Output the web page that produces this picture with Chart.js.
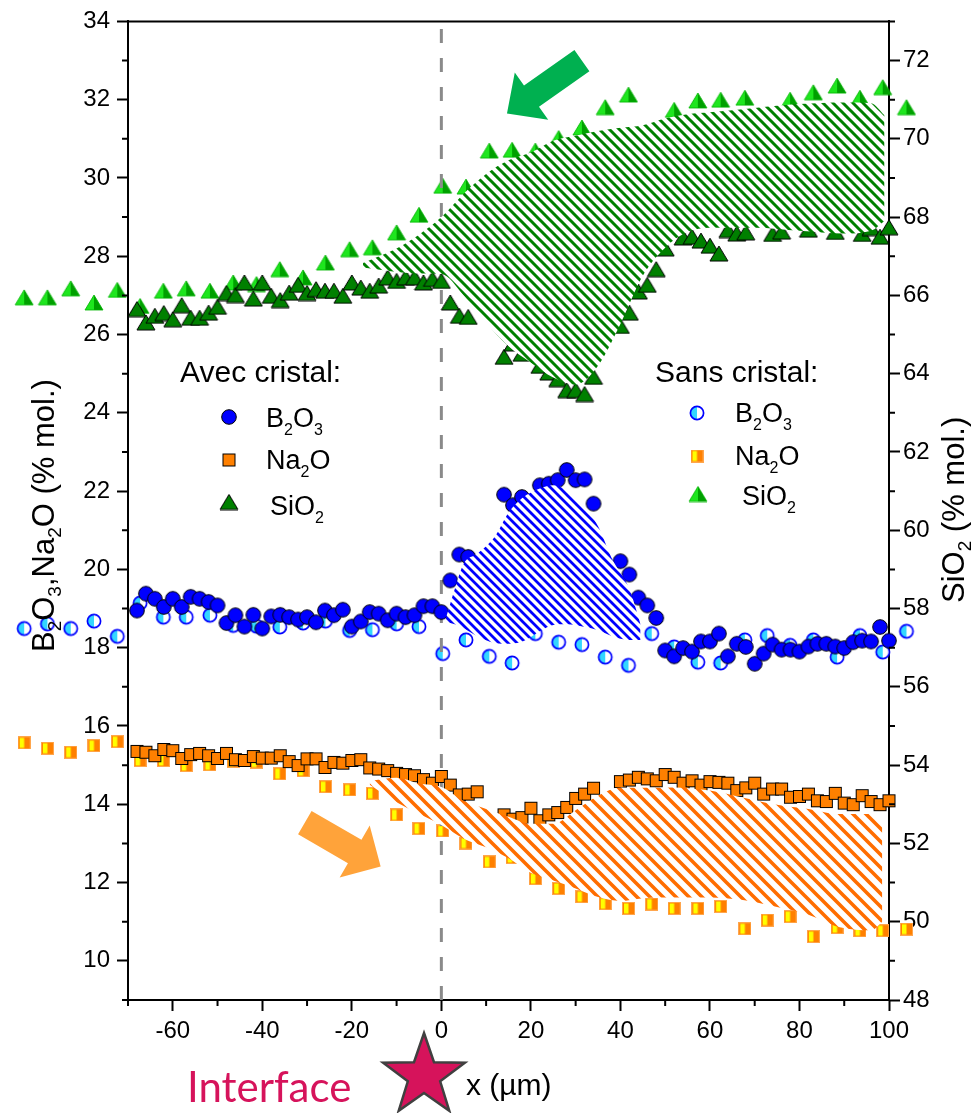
<!DOCTYPE html>
<html>
<head>
<meta charset="utf-8">
<script src="https://cdn.jsdelivr.net/npm/chart.js@4.4.1/dist/chart.umd.min.js"></script>
<style>
  html, body { margin: 0; padding: 0; background: #fff; }
  canvas { display: block; }
</style>
</head>
<body>
<canvas id="c" width="973" height="1113"></canvas>
<script>
/* composition profiles across the interface — avec / sans cristal */

const FONT = '"Liberation Sans", Arial, sans-serif';

// ── TICKS ─────────────────────────────────────────────────────────────────────
const xTicks  = [-60, -40, -20, 0, 20, 40, 60, 80, 100];
const xMinor  = [-70, -50, -30, -10, 10, 30, 50, 70, 90];
const yTicks  = [10, 12, 14, 16, 18, 20, 22, 24, 26, 28, 30, 32, 34];
const yMinor  = [9, 11, 13, 15, 17, 19, 21, 23, 25, 27, 29, 31, 33];
const y1Ticks = [48, 50, 52, 54, 56, 58, 60, 62, 64, 66, 68, 70, 72];
const y1Minor = [49, 51, 53, 55, 57, 59, 61, 63, 65, 67, 69, 71, 73];
const interfaceX = 0;

// ── AVEC CRISTAL (x in µm) ────────────────────────────────────────────────────
const avecX = [
  -68, -66, -64, -62, -60, -58, -56, -54, -52, -50,
  -48, -46, -44, -42, -40, -38, -36, -34, -32, -30,
  -28, -26, -24, -22, -20, -18, -16, -14, -12, -10,
   -8,  -6,  -4,  -2,   0,   2,   4,   6,   8,  10,
   12,  14,  16,  18,  20,  22,  24,  26,  28,  30,
   32,  34,  36,  38,  40,  42,  44,  46,  48,  50,
   52,  54,  56,  58,  60,  62,  64,  66,  68,  70,
   72,  74,  76,  78,  80,  82,  84,  86,  88,  90,
   92,  94,  96,  98, 100
];
const avecB2O3 = [
  18.95, 19.38, 19.25, 19.04, 19.25, 19.04, 19.30, 19.25, 19.17, 19.08,
  18.63, 18.83, 18.54, 18.84, 18.49, 18.80, 18.84, 18.78, 18.72, 18.78,
  18.65, 18.95, 18.83, 18.97, 18.54, 18.67, 18.91, 18.87, 18.70, 18.87,
  18.78, 18.83, 19.06, 19.06, 18.91, 19.72, 20.38, 20.32, null,  null,
  null,  21.91, 21.64, 21.85, null,  22.15, 22.19, 22.28, 22.54, 22.28,
  22.30, 21.68, null,  null,  20.21, 19.87, 19.28, 19.08, 18.76, 17.93,
  17.78, 17.99, 17.90, 18.16, 18.16, 18.36, 17.78, 18.10, 18.02, 17.59,
  17.85, 18.08, 17.95, 17.95, 17.90, 18.03, 18.10, 18.10, 18.03, 17.99,
  18.14, 18.18, 18.16, 18.53, 18.18
];
const avecNa2O = [
  15.35, 15.33, 15.24, 15.40, 15.37, 15.17, 15.27, 15.30, 15.24, 15.17,
  15.30, 15.14, 15.12, 15.22, 15.18, 15.18, 15.24, 15.09, 14.99, 15.16,
  15.16, 14.94, 15.07, 15.05, 15.12, 15.14, 14.93, 14.90, 14.86, 14.79,
  14.76, 14.73, 14.63, 14.54, 14.71, 14.49, 14.24, 14.26, 14.32, null,
  null,  13.73, 13.62, 13.66, 13.90, 13.58, 13.73, 13.79, 13.92, 14.15,
  14.26, 14.41, null,  null,  14.58, 14.62, 14.69, 14.65, 14.60, 14.76,
  14.69, 14.54, 14.60, 14.49, 14.58, 14.56, 14.54, 14.35, 14.42, 14.54,
  14.26, 14.39, 14.39, 14.18, 14.20, 14.26, 14.09, 14.07, 14.28, 14.03,
  13.99, 14.22, 14.07, 13.99, 14.09
];
const avecSiO2 = [
  65.65, 65.31, 65.48, 65.55, 65.39, 65.75, 65.43, 65.43, 65.56, 65.71,
  66.06, 66.01, 66.33, 65.92, 66.33, 65.99, 65.88, 66.07, 66.27, 66.06,
  66.16, 66.12, 66.12, 65.99, 66.33, 66.20, 66.12, 66.25, 66.46, 66.37,
  66.46, 66.46, 66.33, 66.42, 66.37, 65.82, 65.48, 65.45, null,  null,
  null,  64.43, 64.77, 64.51, null,  64.20, 64.03, 63.86, 63.58, 63.58,
  63.48, 63.92, null,  null,  65.22, 65.56, 66.10, 66.27, 66.67, 67.20,
  null,  67.48, 67.50, 67.40, 67.27, 67.07, 67.67, 67.58, 67.61, null,
  null,  67.57, 67.63, null,  null,  67.68, null,  null,  67.62, null,
  null,  67.57, 67.72, 67.50, 67.74
];

// ── SANS CRISTAL ──────────────────────────────────────────────────────────────
const sansX = [
  -93.2, -88.0, -82.8, -77.6, -72.4, -67.3, -62.1, -57.0, -51.7, -46.5,
  -41.3, -36.1, -30.9, -25.9, -20.5, -15.4, -10.0,  -5.0,   0.3,   5.5,
   10.7,  15.8,  21.0,  26.2,  31.4,  36.6,  41.8,  47.0,  52.0,  57.3,
   62.4,  67.8,  72.8,  77.9,  83.1,  88.4,  93.5,  98.6, 103.9
];
const sansB2O3 = [
  18.49, 18.61, 18.49, 18.68, 18.29, 19.14, 18.78, 18.78, 18.83, 18.57,
  18.55, 18.53, 18.63, 18.68, 18.44, 18.46, 18.61, 18.54, 17.85, 18.20,
  17.78, 17.61, 18.36, 18.14, 18.08, 17.76, 17.55, 18.36, 18.02, 17.63,
  17.61, 18.20, 18.31, 18.06, 18.20, 17.76, 18.31, 17.89, 18.42
];
const sansNa2O = [
  15.57, 15.43, 15.33, 15.50, 15.60, 15.12, 15.12, 14.99, 15.01, 15.10,
  15.08, 14.78, 14.86, 14.45, 14.37, 14.28, 13.73, 13.38, 13.32, 13.01,
  12.53, 12.64, 12.10, 11.85, 11.64, 11.46, 11.34, 11.45, 11.34, 11.34,
  11.39, 10.82, 11.04, 11.13, 10.62, 10.85, 10.77, 10.77, 10.81
];
const sansSiO2 = [
  65.95, 65.95, 66.18, 65.82, 66.14, 65.73, 66.12, 66.18, 66.12, 66.33,
  66.29, 66.67, 66.46, 66.84, 67.18, 67.23, 67.61, 68.06, 68.80, 68.78,
  69.70, 69.72, 69.70, 70.02, 70.29, 70.81, 71.13, null,  70.74, 70.98,
  71.00, 71.05, null,  71.00, 71.19, 71.36, 71.05, 71.32, 70.81
];

// ── HATCHED GAPS (upper / lower edge) ─────────────────────────────────────────
const gapSiO2X   = [-17.5, -10, -5, 0, 5, 10, 15, 20, 25, 30, 35, 40, 45, 50, 55, 60, 70, 80, 90, 96, 99];
const gapSiO2Top = [66.83, 67.2, 67.55, 68.0, 68.6, 69.1, 69.45, 69.65, 69.95, 70.08, 70.2, 70.28, 70.35, 70.52, 70.63, 70.68, 70.79, 70.89, 70.93, 70.91, 70.6];
const gapSiO2Bot = [66.71, 66.6, 66.56, 66.55, 66.0, 65.3, 64.7, 64.28, 63.9, 63.72, 64.2, 65.27, 66.5, 67.22, 67.62, 67.73, 67.73, 67.65, 67.58, 67.65, 67.9];

const gapB2O3X   = [1, 3, 5, 8, 12, 15, 18, 22, 25, 28, 32, 35, 38, 42, 44.5];
const gapB2O3Top = [18.75, 19.5, 20.15, 20.4, 20.85, 21.45, 21.82, 22.07, 22.15, 22.03, 21.58, 21.1, 20.3, 19.5, 18.6];
const gapB2O3Bot = [18.65, 18.6, 18.5, 18.3, 18.12, 18.1, 18.15, 18.42, 18.58, 18.6, 18.53, 18.45, 18.3, 18.2, 18.2];

const gapNa2OX   = [-16, -10, -5, 0, 5, 10, 15, 20, 25, 30, 35, 40, 45, 52, 60, 67, 74, 82, 89, 96, 98.5];
const gapNa2OTop = [14.6, 14.68, 14.53, 14.44, 14.09, 13.88, 13.68, 13.5, 13.5, 13.85, 14.22, 14.43, 14.42, 14.43, 14.35, 14.18, 14.01, 13.88, 13.75, 13.75, 13.5];
const gapNa2OBot = [14.5, 14.05, 13.76, 13.47, 13.12, 12.9, 12.62, 12.25, 12.05, 11.85, 11.63, 11.53, 11.6, 11.62, 11.62, 11.56, 11.4, 11.18, 10.86, 10.78, 11.0];

// ── HELPERS ───────────────────────────────────────────────────────────────────
const canvas = document.getElementById('c');
const ctx    = canvas.getContext('2d');

const pts = (xs, ys) => xs.map((x, i) => ({ x, y: ys[i] }));

function markerCanvas(w, h, draw) {
  const c = document.createElement('canvas');
  c.width = w; c.height = h;
  draw(c.getContext('2d'));
  return c;
}

const MK = {
  circFull: markerCanvas(18, 18, g => {
    g.beginPath(); g.arc(9, 9, 7.3, 0, 2 * Math.PI);
    g.fillStyle = '#0000ff'; g.fill();
    g.lineWidth = 1; g.strokeStyle = '#000'; g.stroke();
  }),
  circHalf: markerCanvas(18, 18, g => {
    g.beginPath(); g.arc(9, 9, 6.6, 0, 2 * Math.PI);
    g.fillStyle = '#fff'; g.fill();
    g.beginPath(); g.arc(9, 9, 6.6, Math.PI / 2, Math.PI * 1.5); g.closePath();
    g.fillStyle = '#33d6ff'; g.fill();
    g.beginPath(); g.arc(9, 9, 6.6, 0, 2 * Math.PI);
    g.lineWidth = 1.7; g.strokeStyle = '#0000ff'; g.stroke();
  }),
  sqFull: markerCanvas(15, 15, g => {
    g.fillStyle = '#ff8000'; g.fillRect(1, 1, 13, 13);
    g.lineWidth = 1; g.strokeStyle = '#000'; g.strokeRect(1.5, 1.5, 12, 12);
  }),
  sqHalf: markerCanvas(13, 13, g => {
    g.fillStyle = '#ff8000'; g.fillRect(0, 0, 13, 13);
    g.fillStyle = '#ffff00'; g.fillRect(2, 1.5, 4.5, 10);
    g.lineWidth = 1; g.strokeStyle = '#ffa64d'; g.strokeRect(0.5, 0.5, 12, 12);
  }),
  triFull: markerCanvas(20, 17, g => {
    g.beginPath(); g.moveTo(1, 16); g.lineTo(19, 16); g.lineTo(10, 1); g.closePath();
    g.fillStyle = '#008000'; g.fill();
    g.lineWidth = 1; g.strokeStyle = '#000'; g.stroke();
  }),
  triHalf: markerCanvas(20, 17, g => {
    g.beginPath(); g.moveTo(1, 16); g.lineTo(10, 16); g.lineTo(10, 1); g.closePath();
    g.fillStyle = '#1ee61e'; g.fill();
    g.beginPath(); g.moveTo(10, 16); g.lineTo(19, 16); g.lineTo(10, 1); g.closePath();
    g.fillStyle = '#00a000'; g.fill();
    g.beginPath(); g.moveTo(1, 16); g.lineTo(19, 16); g.lineTo(10, 1); g.closePath();
    g.lineWidth = 0.8; g.strokeStyle = '#00b400'; g.stroke();
  })
};

// diagonal "\" stripes on white
function hatch(color, period, width) {
  const t = document.createElement('canvas');
  t.width = period; t.height = period;
  const g = t.getContext('2d');
  g.fillStyle = '#fff'; g.fillRect(0, 0, period, period);
  g.strokeStyle = color; g.lineWidth = width;
  g.beginPath();
  for (let k = -1; k <= 1; k++) {
    g.moveTo(k * period - 2, -2);
    g.lineTo(k * period + period + 2, period + 2);
  }
  g.stroke();
  return ctx.createPattern(t, 'repeat');
}

const gapSet = (xs, top, bot, axis, pattern) => [
  { data: pts(xs, top), yAxisID: axis, fill: '+1', backgroundColor: pattern,
    borderColor: 'rgba(0,0,0,0)', borderWidth: 0, pointRadius: 0,
    cubicInterpolationMode: 'monotone', order: 0 },
  { data: pts(xs, bot), yAxisID: axis, fill: false,
    borderColor: 'rgba(0,0,0,0)', borderWidth: 0, pointRadius: 0,
    cubicInterpolationMode: 'monotone', order: 0 }
];

// big radius only widens the "in area" margin so points past the axes still draw
const markSet = (xs, ys, axis, img, order) => ({
  data: pts(xs, ys), yAxisID: axis, showLine: false,
  pointStyle: img, pointRadius: 120, pointHoverRadius: 120, pointBorderWidth: 0,
  clip: false, order
});

function chem(g, str, x, y, size, subSize, drop) {
  let cx = x;
  for (const t of str.split(/(_\d)/)) {
    if (!t) continue;
    const sub = t[0] === '_';
    const s = sub ? t.slice(1) : t;
    g.font = `${sub ? subSize : size}px ${FONT}`;
    g.fillText(s, cx, sub ? y + drop : y);
    cx += g.measureText(s).width;
  }
  return cx;
}

function arrow(g, tx, ty, px, py, sw, hw, hl, color) {
  const dx = px - tx, dy = py - ty, L = Math.hypot(dx, dy);
  const ux = dx / L, uy = dy / L, nx = -uy, ny = ux;
  const bx = px - ux * hl, by = py - uy * hl;
  g.beginPath();
  g.moveTo(tx + nx * sw / 2, ty + ny * sw / 2);
  g.lineTo(bx + nx * sw / 2, by + ny * sw / 2);
  g.lineTo(bx + nx * hw / 2, by + ny * hw / 2);
  g.lineTo(px, py);
  g.lineTo(bx - nx * hw / 2, by - ny * hw / 2);
  g.lineTo(bx - nx * sw / 2, by - ny * sw / 2);
  g.lineTo(tx - nx * sw / 2, ty - ny * sw / 2);
  g.closePath();
  g.fillStyle = color; g.fill();
}

function star(g, cx, cy, R, r) {
  g.beginPath();
  for (let i = 0; i < 10; i++) {
    const a = -Math.PI / 2 + i * Math.PI / 5;
    const rad = i % 2 ? r : R;
    g.lineTo(cx + rad * Math.cos(a), cy + rad * Math.sin(a));
  }
  g.closePath();
  g.fillStyle = '#d6135b'; g.fill();
  g.lineWidth = 2.5; g.strokeStyle = '#404040'; g.stroke();
}

// ── DECOR (frame, minor ticks, legends, titles, arrows) ───────────────────────
const decor = {
  id: 'decor',
  afterDraw(chart) {
    const g = chart.ctx;
    const a = chart.chartArea;
    const { x, y, y1 } = chart.scales;
    g.save();

    g.strokeStyle = '#000'; g.lineWidth = 2;
    g.beginPath();
    g.moveTo(a.left - 1, a.top); g.lineTo(a.right + 1, a.top);
    xMinor.forEach(v => { const p = x.getPixelForValue(v); g.moveTo(p, a.bottom); g.lineTo(p, a.bottom + 6); });
    yMinor.forEach(v => { const p = y.getPixelForValue(v); g.moveTo(a.left - 6, p); g.lineTo(a.left, p); });
    y1Minor.forEach(v => { const p = y1.getPixelForValue(v); g.moveTo(a.right, p); g.lineTo(a.right + 6, p); });
    g.stroke();

    // arrows
    arrow(g, x.getPixelForValue(31.4), y.getPixelForValue(33.0),
             x.getPixelForValue(14.66), y.getPixelForValue(31.65), 26, 58, 30, '#00b050');
    arrow(g, x.getPixelForValue(-30.5), y.getPixelForValue(13.53),
             x.getPixelForValue(-13.56), y.getPixelForValue(12.41), 27, 60, 30, '#ffa33a');

    // legends
    g.fillStyle = '#000';
    g.textAlign = 'left'; g.textBaseline = 'alphabetic';
    g.font = `30px ${FONT}`;
    g.fillText('Avec cristal:', 180, 382);
    g.fillText('Sans cristal:', 655, 382);
    const items = [
      [MK.circFull, 229, 417, 'B_2O_3', 266, 427],
      [MK.sqFull,   229, 460, 'Na_2O',  266, 469],
      [MK.triFull,  229, 502, 'SiO_2',  270, 515],
      [MK.circHalf, 697, 413, 'B_2O_3', 735, 422],
      [MK.sqHalf,   697, 456, 'Na_2O',  735, 465],
      [MK.triHalf,  698, 494, 'SiO_2',  742, 505]
    ];
    items.forEach(([img, mx, my, txt, tx, ty]) => {
      g.drawImage(img, mx - img.width / 2, my - img.height / 2);
      chem(g, txt, tx, ty, 27, 16, 8);
    });

    // axis titles
    g.save();
    g.translate(54, 652); g.rotate(-Math.PI / 2);
    chem(g, 'B_2O_3,Na_2O (% mol.)', 0, 0, 31, 19, 7);
    g.restore();
    g.save();
    g.translate(964, 603); g.rotate(-Math.PI / 2);
    chem(g, 'SiO_2 (% mol.)', 0, 0, 31, 19, 7);
    g.restore();

    // bottom annotation
    g.font = `30px ${FONT}`;
    g.fillText('x (µm)', 466, 1095);
    g.font = '42px Lato, "Open Sans", sans-serif';
    g.fillStyle = '#d6135b';
    g.fillText('Interface', 187, 1102);
    star(g, 424, 1076, 43, 17);

    g.restore();
  }
};

// ── CHART ─────────────────────────────────────────────────────────────────────
Chart.defaults.font.family = FONT;
Chart.defaults.color = '#000';

const GRID   = { display: true, drawOnChartArea: false, drawTicks: true, tickLength: 11, tickWidth: 2, tickColor: '#000' };
const BORDER = { display: true, color: '#000', width: 2 };
const TICKS  = { font: { size: 24 }, color: '#000', autoSkip: false, maxRotation: 0, callback: v => String(v) };

new Chart(ctx, {
  type: 'line',
  data: {
    datasets: [
      ...gapSet(gapSiO2X, gapSiO2Top, gapSiO2Bot, 'y1', hatch('#008000', 10, 3.0)),
      ...gapSet(gapB2O3X, gapB2O3Top, gapB2O3Bot, 'y',  hatch('#0000ff', 9, 2.8)),
      ...gapSet(gapNa2OX, gapNa2OTop, gapNa2OBot, 'y',  hatch('#ff6d00', 13, 3.6)),
      markSet(avecX, avecB2O3, 'y',  MK.circFull, 1),
      markSet(avecX, avecNa2O, 'y',  MK.sqFull,   1),
      markSet(avecX, avecSiO2, 'y1', MK.triFull,  1),
      {
        data: [{ x: interfaceX, y: 9 }, { x: interfaceX, y: 34 }], yAxisID: 'y',
        borderColor: '#8a8a8a', borderWidth: 3, borderDash: [14, 15],
        pointRadius: 0, fill: false, order: 2
      },
      markSet(sansX, sansB2O3, 'y',  MK.circHalf, 3),
      markSet(sansX, sansNa2O, 'y',  MK.sqHalf,   3),
      markSet(sansX, sansSiO2, 'y1', MK.triHalf,  3)
    ]
  },
  options: {
    responsive: false,
    animation: false,
    events: [],
    devicePixelRatio: 1,
    layout: { autoPadding: false, padding: { top: 20, left: 0, right: 0, bottom: 0 } },
    plugins: { legend: { display: false }, tooltip: { enabled: false } },
    scales: {
      x: {
        type: 'linear', position: 'bottom', bounds: 'data',
        afterDataLimits: s => { s.min = -70; s.max = 100; },
        afterBuildTicks: s => { s.ticks = xTicks.map(v => ({ value: v })); s.min = -70; s.max = 100; },
        afterFit: s => { s.height = 113; },
        grid: GRID, border: BORDER,
        ticks: { ...TICKS, padding: 6 }
      },
      y: {
        type: 'linear', position: 'left', min: 9, max: 34,
        afterBuildTicks: s => { s.ticks = yTicks.map(v => ({ value: v })); },
        afterFit: s => { s.width = 128; },
        grid: GRID, border: BORDER,
        ticks: { ...TICKS, padding: 7 }
      },
      y1: {
        type: 'linear', position: 'right', min: 48, max: 73,
        afterBuildTicks: s => { s.ticks = y1Ticks.map(v => ({ value: v })); },
        afterFit: s => { s.width = 84; },
        grid: GRID, border: BORDER,
        ticks: { ...TICKS, padding: 3 }
      }
    }
  },
  plugins: [decor]
});
</script>
</body>
</html>
